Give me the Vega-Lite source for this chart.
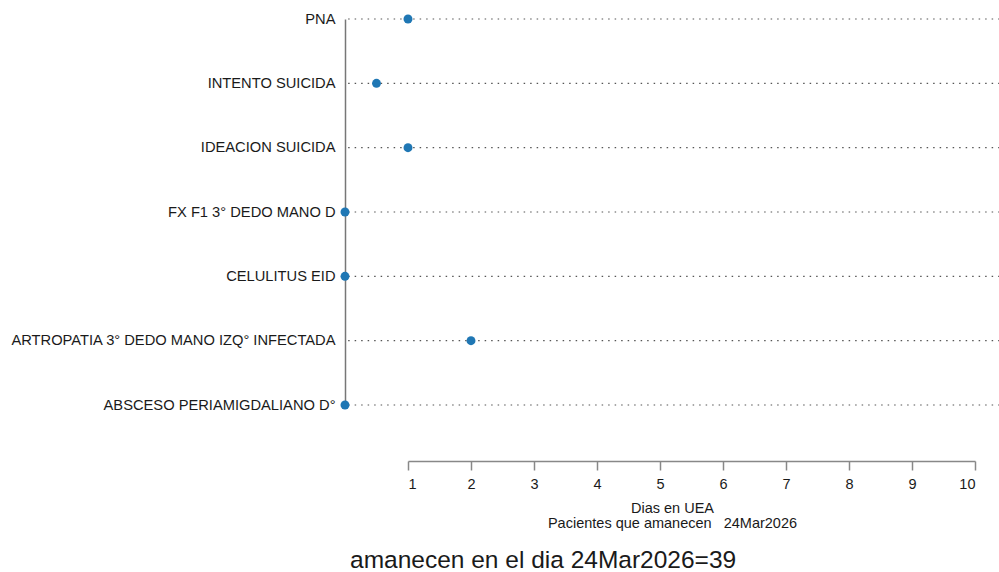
{
  "$schema": "https://vega.github.io/schema/vega-lite/v6.json",
  "autosize": {"type": "none"},
  "padding": {"left": 345, "top": 19, "right": 0, "bottom": 167},
  "width": 654,
  "height": 386,
  "background": "white",
  "config": {
    "view": {"stroke": null},
    "font": "Liberation Sans"
  },
  "title": {
    "text": "amanecen en el dia 24Mar2026=39",
    "orient": "bottom",
    "anchor": "start",
    "frame": "group",
    "fontSize": 24.5,
    "fontWeight": "normal",
    "color": "#1a1a1a",
    "font": "Liberation Sans",
    "dx": 5,
    "offset": 19
  },
  "data": {
    "values": [
      {"diagnostico": "PNA", "dias": 1},
      {"diagnostico": "INTENTO SUICIDA", "dias": 0.5},
      {"diagnostico": "IDEACION SUICIDA", "dias": 1},
      {"diagnostico": "FX F1 3° DEDO MANO D", "dias": 0},
      {"diagnostico": "CELULITUS EID", "dias": 0},
      {"diagnostico": "ARTROPATIA 3° DEDO MANO IZQ° INFECTADA", "dias": 2},
      {"diagnostico": "ABSCESO PERIAMIGDALIANO D°", "dias": 0}
    ]
  },
  "encoding": {
    "y": {
      "field": "diagnostico",
      "type": "nominal",
      "sort": null,
      "scale": {"type": "point", "padding": 0},
      "axis": {
        "title": null,
        "ticks": false,
        "domainColor": "#777777",
        "domainWidth": 1.5,
        "labelFontSize": 14.7,
        "labelColor": "#1a1a1a",
        "labelPadding": 10,
        "labelLimit": 500,
        "grid": false
      }
    }
  },
  "layer": [
    {
      "mark": {"type": "rule", "strokeDash": [1.5, 5], "color": "#555555", "strokeWidth": 1.2},
      "encoding": {
        "x": {"datum": 0.05, "type": "quantitative"},
        "x2": {"datum": 10.4}
      }
    },
    {
      "mark": {"type": "point", "filled": true, "size": 80, "color": "#1f77b4", "opacity": 1},
      "encoding": {
        "x": {
          "field": "dias",
          "type": "quantitative",
          "scale": {"domain": [1, 10], "range": [63, 630], "nice": false, "zero": false},
          "axis": {
            "values": [1, 2, 3, 4, 5, 6, 7, 8, 9, 10],
            "format": "d",
            "grid": false,
            "offset": 56,
            "domainColor": "#888888",
            "domainWidth": 1.5,
            "tickColor": "#888888",
            "tickWidth": 1.5,
            "tickSize": 9,
            "labelFontSize": 14.5,
            "labelColor": "#1a1a1a",
            "labelPadding": 7,
            "title": ["Dias en UEA", "Pacientes que amanecen\u00a0\u00a0\u00a024Mar2026"],
            "titleFontSize": 14.5,
            "titleFontWeight": "normal",
            "titleColor": "#1a1a1a",
            "titleLineHeight": 14.5,
            "titleX": 327,
            "titlePadding": 11
          }
        }
      }
    }
  ]
}
